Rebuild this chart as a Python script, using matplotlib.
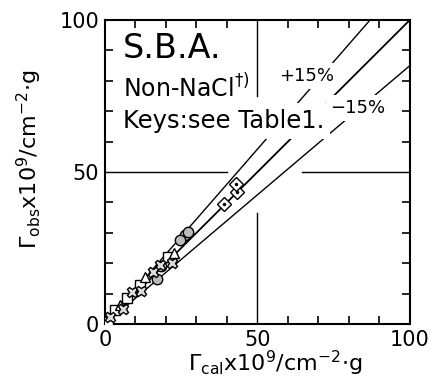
import numpy as np
import matplotlib.pyplot as plt
from matplotlib.ticker import FixedLocator

plt.rcParams['font.family'] = ['DejaVu Sans']
plt.rcParams['mathtext.fontset'] = 'dejavusans'

# data (Gamma_cal, Gamma_obs) x 1e9
sq_x = [20.7, 11.5, 7.2, 3.3, 1.0]
sq_y = [22.0, 12.8, 8.6, 4.6, 0.7]
tri_x = [22.6, 13.1, 4.9]
tri_y = [23.4, 15.5, 6.2]
circ_x = [26.2, 27.2, 24.6, 18.4, 17.0]
circ_y = [29.3, 30.3, 27.6, 19.0, 15.0]
cross_x = [18.0, 15.7, 8.9, 12.0, 6.0, 1.6, 22.0]
cross_y = [19.4, 17.1, 10.5, 11.0, 5.0, 2.3, 20.0]
dia_x = [39.0, 43.3, 43.0]
dia_y = [39.5, 43.3, 46.0]

dev = 0.15
xline = np.array([0, 100])

fig = plt.figure(figsize=(4.37, 3.91), dpi=100)
ax = fig.add_axes([0.240, 0.171, 0.698, 0.778])

# 1:1 and +-15 % lines
ax.plot(xline, xline, color='black', lw=1.3, zorder=2)
ax.plot(xline, xline * (1 + dev), color='black', lw=1.0, zorder=2)
ax.plot(xline, xline * (1 - dev), color='black', lw=1.0, zorder=2)

# cross lines at 50
ax.axvline(50, ymin=0, ymax=0.365, color='black', lw=1.0)
ax.axvline(50, ymin=0.75, ymax=1, color='black', lw=1.0)
ax.axhline(50, xmin=0, xmax=0.40, color='black', lw=1.0)
ax.axhline(50, xmin=0.646, xmax=1, color='black', lw=1.0)

mk = dict(color='black', linestyle='none', markersize=7.5, markeredgewidth=1.0, zorder=3)
ax.plot(sq_x, sq_y, marker='s', markerfacecolor='white', **mk)
ax.plot(tri_x, tri_y, marker='^', markerfacecolor='white', **mk)
ax.plot(circ_x, circ_y, marker='o', markerfacecolor='#bbbbbb', **mk)
ax.plot(cross_x, cross_y, marker='X', markerfacecolor='#dddddd', **mk)
ax.plot(dia_x, dia_y, marker='D', markerfacecolor='white', **mk)
ax.plot(dia_x, dia_y, marker='.', color='black', linestyle='none', markersize=3, zorder=4)

ax.set_xlim(0, 100)
ax.set_ylim(0, 100)
ax.set_xticks([0, 50, 100])
ax.set_yticks([0, 50, 100])
ax.xaxis.set_minor_locator(FixedLocator([10, 20, 30, 40, 60, 70, 80, 90]))
ax.yaxis.set_minor_locator(FixedLocator([10, 20, 30, 40, 60, 70, 80, 90]))
ax.tick_params(which='major', length=0, labelsize=15, pad=4)
ax.tick_params(which='minor', direction='in', length=6, width=1.2,
               bottom=True, left=True, top=True, right=True)
for s in ax.spines.values():
    s.set_linewidth(1.5)

ax.set_xlabel(r'$\mathit{\Gamma}_{\rm cal}$x10$^9$/cm$^{-2}$$\cdot$g', fontsize=16)
ax.set_ylabel(r'$\mathit{\Gamma}_{\rm obs}$x10$^9$/cm$^{-2}$$\cdot$g', fontsize=16)
ax.xaxis.set_label_coords(0.557, -0.08)
ax.yaxis.set_label_coords(-0.2, 0.543)

wb = dict(facecolor='white', edgecolor='none', pad=1.5)
ax.text(5.9, 90.5, 'S.B.A.', fontsize=24, va='center', ha='left', bbox=wb, zorder=5)
ax.text(5.9, 77.6, r'Non-NaCl$^{\dagger)}$', fontsize=17, va='center', ha='left', bbox=wb, zorder=5)
ax.text(5.9, 66.8, 'Keys:see Table1.', fontsize=17.5, va='center', ha='left',
        bbox=dict(facecolor='white', edgecolor='none', pad=4), zorder=5)
ax.text(66, 81.6, '+15%', fontsize=13, va='center', ha='center',
        bbox=dict(facecolor='white', edgecolor='none', pad=3), zorder=5)
ax.text(83, 71, '\u221215%', fontsize=13, va='center', ha='center',
        bbox=dict(facecolor='white', edgecolor='none', pad=3), zorder=5)

fig.savefig('out.png', dpi=100)
